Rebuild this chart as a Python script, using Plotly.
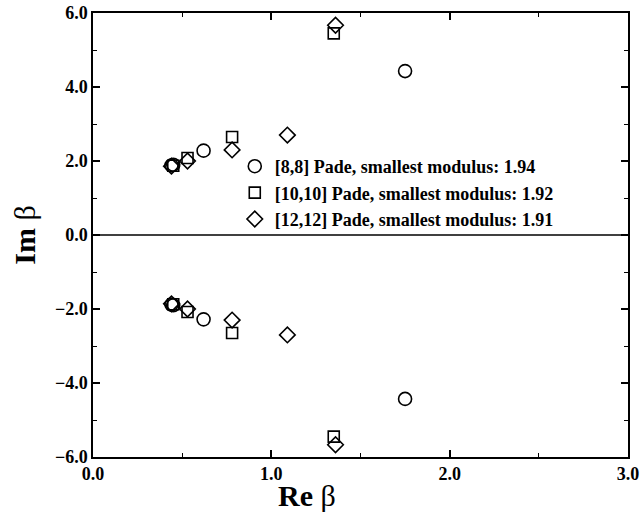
import plotly.graph_objects as go

# [8,8] Pade poles (upper half); lower half are conjugates
re_88 = [0.44, 0.45, 0.62, 1.75]
im_88 = [1.88, 1.90, 2.28, 4.43]
# [10,10]
re_1010 = [0.45, 0.53, 0.78, 1.35]
im_1010 = [1.87, 2.08, 2.65, 5.45]
# [12,12]
re_1212 = [0.44, 0.53, 0.78, 1.09, 1.36]
im_1212 = [1.86, 2.00, 2.30, 2.70, 5.67]

names = ["[8,8] Pade, smallest modulus: 1.94",
         "[10,10] Pade, smallest modulus: 1.92",
         "[12,12] Pade, smallest modulus: 1.91"]
symbols = ["circle-open", "square-open", "diamond-open"]
sizes = [13, 11, 12]

fig = go.Figure()
for re, im, nm, sym, sz in zip([re_88, re_1010, re_1212], [im_88, im_1010, im_1212], names, symbols, sizes):
    xs = re + re
    ys = im + [-v for v in im]
    fig.add_trace(go.Scatter(x=xs, y=ys, mode="markers", name="<b>" + nm + "</b>",
                             marker=dict(symbol=sym, size=sz, color="black",
                                         line=dict(color="black", width=1.6))))

fig.add_shape(type="line", xref="x", yref="y", x0=0, x1=3, y0=0, y1=0,
              line=dict(color="black", width=1.5))

axis_font = dict(family="Liberation Serif", size=18, color="black", weight="bold")
title_font = dict(family="Liberation Serif", size=30, color="black")
fig.update_xaxes(range=[0, 3], dtick=1, tickformat=".1f", ticks="inside", ticklen=7,
                 tickwidth=1.5, tickcolor="black", showline=True, linecolor="black",
                 linewidth=1.5, mirror="ticks", showgrid=False, zeroline=False,
                 tickfont=axis_font, automargin=False, ticklabeloverflow="allow",
                 minor=dict(dtick=0.5, ticks="inside", ticklen=4, tickcolor="black", tickwidth=1.2))
fig.update_yaxes(range=[-6, 6], dtick=2, tickformat=".1f", ticks="inside", ticklen=7,
                 tickwidth=1.5, tickcolor="black", showline=True, linecolor="black",
                 linewidth=1.5, mirror="ticks", showgrid=False, zeroline=False,
                 tickfont=axis_font, automargin=False, ticklabeloverflow="allow",
                 minor=dict(dtick=1, ticks="inside", ticklen=4, tickcolor="black", tickwidth=1.2),
                 title=dict(text="<b>Im</b> β", font=title_font, standoff=10))

fig.add_annotation(text="<b>Re</b> β", xref="paper", yref="paper", x=0.40, y=-0.086,
                   xanchor="center", yanchor="middle", showarrow=False, font=title_font)

fig.update_layout(width=640, height=515, margin=dict(l=93, r=12, t=13, b=58, autoexpand=False),
                  plot_bgcolor="white", paper_bgcolor="white",
                  legend=dict(x=0.265, y=0.696, xanchor="left", yanchor="top",
                              bgcolor="rgba(0,0,0,0)",
                              font=dict(family="Liberation Serif", size=18, color="black"),
                              itemwidth=30, tracegroupgap=0))

fig.write_html("out.html", config={"displayModeBar": False},
               post_script="document.body.style.margin='0';document.body.style.overflow='hidden';")
